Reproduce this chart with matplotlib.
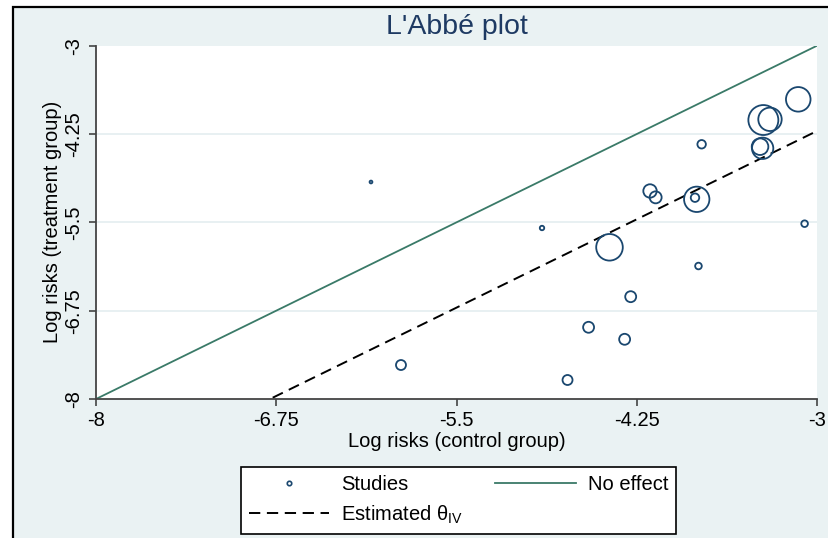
import matplotlib
matplotlib.use("Agg")
import matplotlib.pyplot as plt
import numpy as np
from matplotlib.lines import Line2D
from matplotlib.patches import Rectangle

plt.rcParams['font.family'] = ['Liberation Sans', 'DejaVu Sans']
plt.rcParams['mathtext.fontset'] = 'custom'
plt.rcParams['mathtext.rm'] = 'Liberation Sans'
plt.rcParams['mathtext.it'] = 'Liberation Sans'

# ---- data ----
control_logrisk = [-6.093, -4.907, -5.885, -4.730, -4.584, -4.334, -4.292, -3.822, -3.086,
                   -4.439, -4.158, -4.119, -3.834, -3.846, -3.800, -3.395, -3.377, -3.372,
                   -3.326, -3.130]
treat_logrisk = [-4.929, -5.580, -7.519, -7.731, -6.985, -7.155, -6.552, -6.118, -5.519,
                 -5.853, -5.056, -5.146, -5.174, -5.151, -4.395, -4.429, -4.452, -4.052,
                 -4.042, -3.759]
study_weight = [2, 5, 25, 25, 30, 30, 30, 11, 11,
                177, 45, 36, 161, 18, 18, 69, 114, 225,
                137, 151]
theta_iv = -1.207          # estimated pooled log risk ratio (IV)
axis_ticks = [-8, -6.75, -5.5, -4.25, -3]
tick_labels = ['-8', '-6.75', '-5.5', '-4.25', '-3']
line_range = [-8, -3]

NAVY = '#1a476f'
GREEN = '#3a7a68'
BG = '#eaf2f3'

W, H = 829, 538
fig = plt.figure(figsize=(W / 100, H / 100), dpi=100, facecolor='white')

# outer graph region (Stata style) with black frame on left/top
fig.add_artist(Rectangle((13 / W, -0.05), 1.2, 1 - 7 / H + 0.05, transform=fig.transFigure,
                         facecolor=BG, edgecolor='black', linewidth=1.6, zorder=0))

ax = fig.add_axes([96 / W, 1 - 399 / H, (817 - 96) / W, (399 - 45.7) / H])
ax.set_facecolor('white')
ax.set_xlim(-8, -3)
ax.set_ylim(-8, -3)

# grid
for t in axis_ticks[1:-1]:
    ax.axhline(t, color='#e4eef0', lw=1.2, zorder=0.5)

# lines
xr = np.array(line_range, dtype=float)
ax.plot(xr, xr, color=GREEN, lw=1.3, zorder=2)
ax.plot(xr, xr + theta_iv, color='black', lw=1.4, dashes=(5.8, 3.4), zorder=2)

# studies
sizes = np.array(study_weight, dtype=float) * 2.07
ax.scatter(control_logrisk, treat_logrisk, s=sizes, facecolors='none', edgecolors=NAVY,
           linewidths=1.3, zorder=3, clip_on=False)

for side in ['top', 'right']:
    ax.spines[side].set_visible(False)
for side in ['left', 'bottom']:
    ax.spines[side].set_color('#444444')
    ax.spines[side].set_linewidth(1.3)

ax.set_xticks(axis_ticks)
ax.set_xticklabels(tick_labels)
ax.set_yticks(axis_ticks)
ax.set_yticklabels(tick_labels, rotation=90, va='center')
ax.tick_params(axis='both', direction='out', length=5, width=1.2, color='#444444',
               labelsize=14.5, pad=4)

ax.set_xlabel('Log risks (control group)', fontsize=14.5, labelpad=1)
ax.set_ylabel('Log risks (treatment group)', fontsize=14.5, labelpad=2)

fig.text(457 / W, 1 - 27 / H, "L'Abbé plot", ha='center', va='center', fontsize=20.5,
         color='#1e3a63')

handles = [
    Line2D([], [], marker='o', ls='none', markersize=3.2, markerfacecolor='none',
           markeredgecolor=NAVY, markeredgewidth=1.2),
    Line2D([], [], color='black', lw=1.4, dashes=(5.8, 3.4)),
    Line2D([], [], color=GREEN, lw=1.3),
]
labels = ['Studies', 'Estimated θ$_{\\mathrm{IV}}$', 'No effect']
leg = fig.legend(handles, labels, ncol=2, loc='center',
                 bbox_to_anchor=(458.5 / W, 1 - 500.5 / H), fontsize=14.5,
                 frameon=True, fancybox=False, edgecolor='black', facecolor='white',
                 framealpha=1, handlelength=4.0, handletextpad=0.6, columnspacing=1.6,
                 labelspacing=0.45, borderpad=0.4, borderaxespad=0)
leg.get_frame().set_linewidth(1.2)

fig.savefig('out.png', dpi=100, facecolor=fig.get_facecolor())
